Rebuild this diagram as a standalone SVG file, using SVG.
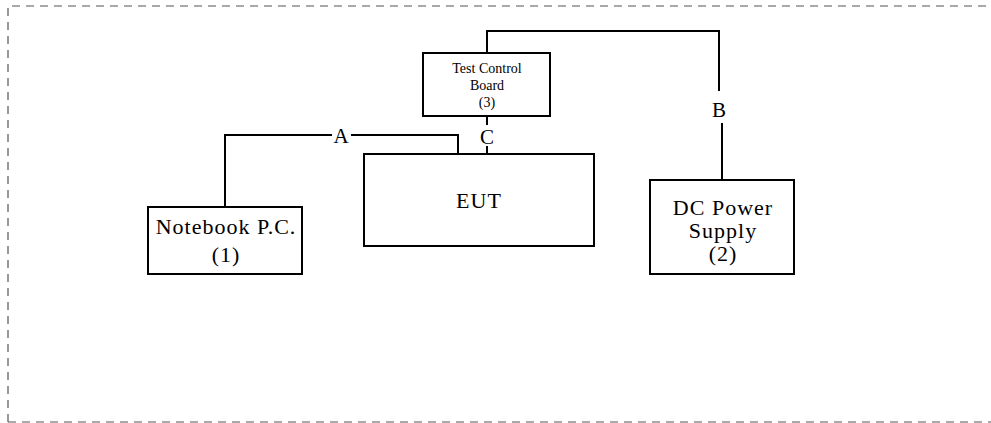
<svg xmlns="http://www.w3.org/2000/svg" width="991" height="423" viewBox="0 0 991 423">
<style>
.box{fill:#fff;stroke:#000;stroke-width:2}
.ln{fill:none;stroke:#000;stroke-width:2}
.t{font-family:"Liberation Serif","Times New Roman","DejaVu Serif",serif;fill:#000;text-anchor:middle}
.big{font-size:22px;letter-spacing:1px}
.sm{font-size:14px}
.lbl{font-size:21px}
.border{fill:none;stroke:#555;stroke-width:1.2;stroke-dasharray:8 6}
</style>
<rect width="991" height="423" fill="#fff"/>
<g id="frame">
<path class="border" d="M8,422 V6 H991"/>
<path class="border" d="M8,422 H991"/>
</g>
<g id="connectors">
<path class="ln" d="M487,53 V31 H719 V91"/>
<path class="ln" d="M722,123 V180"/>
<text class="t lbl" x="719" y="117">B</text>
<path class="ln" d="M487,116 V125"/>
<path class="ln" d="M487,146 V154"/>
<text class="t lbl" x="487" y="144">C</text>
<path class="ln" d="M225,207 V135 H332"/>
<path class="ln" d="M351,135 H458 V154"/>
<text class="t lbl" x="341" y="143">A</text>
</g>
<g id="tcb">
<rect class="box" x="423" y="53" width="127" height="63"/>
<text class="t sm" x="487" y="73">Test Control</text>
<text class="t sm" x="487" y="90">Board</text>
<text class="t sm" x="487" y="107">(3)</text>
</g>
<g id="eut">
<rect class="box" x="364" y="154" width="230" height="92"/>
<text class="t big" x="479" y="208">EUT</text>
</g>
<g id="notebook">
<rect class="box" x="148" y="207" width="154" height="67"/>
<text class="t big" x="226" y="234">Notebook P.C.</text>
<text class="t big" x="226" y="262">(1)</text>
</g>
<g id="dcps">
<rect class="box" x="650" y="180" width="144" height="94"/>
<text class="t big" x="723" y="215">DC Power</text>
<text class="t big" x="723" y="238">Supply</text>
<text class="t big" x="723" y="261">(2)</text>
</g>
</svg>
